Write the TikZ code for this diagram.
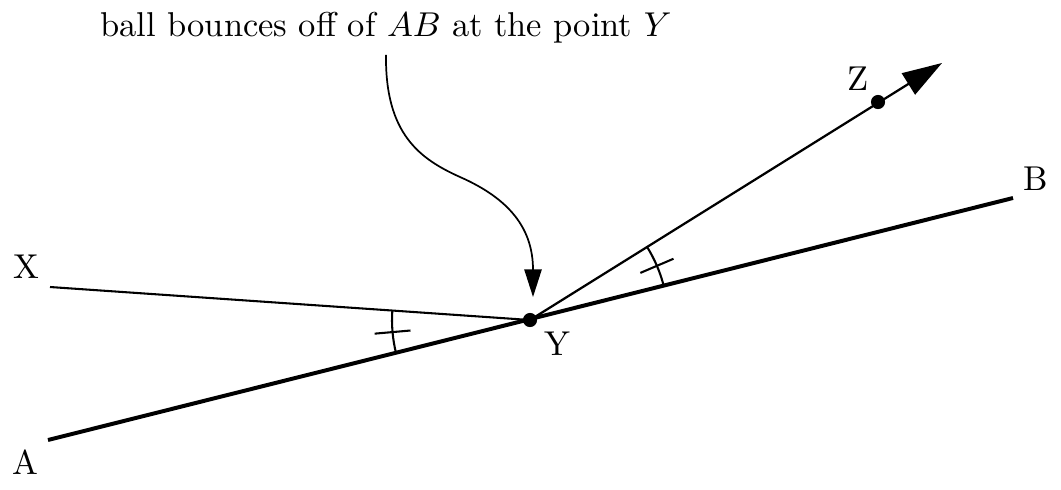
\documentclass[tikz,border=0pt]{standalone}
\usetikzlibrary{arrows.meta,calc}
\begin{document}
\begin{tikzpicture}[x=0.29pt,y=0.29pt,
  lbl/.style={inner sep=0pt},
  dotnode/.style={circle,fill=black,inner sep=0pt,minimum size=4.1pt},
  thinline/.style={line width=0.6pt},
  thickline/.style={line width=1.15pt},
  markline/.style={line width=0.6pt},
  pointer/.style={line width=0.5pt,-{Triangle[length=8pt,width=5pt]}},
  ray/.style={line width=0.65pt,-{Triangle[length=11.5pt,width=7.2pt]}}]
\useasboundingbox (0,0) rectangle (1061,489);
% points
\node[dotnode] (Y) at (530,169) {};
\node[dotnode] (Z) at (878,387) {};
\coordinate (A) at (48,49);
\coordinate (B) at (1013,291);
\coordinate (X) at (50,202);
\coordinate (Ztip) at (942,426);
\coordinate (ctip) at (533,192);
% labels
\node[lbl] (lA) at (25,27) {A};
\node[lbl] (lB) at (1036,310) {B};
\node[lbl] (lX) at (26,222) {X};
\node[lbl] (lY) at (557,145) {Y};
\node[lbl] (lZ) at (858,410) {Z};
\node[anchor=base] (cap) at (386,453) {ball bounces off of $AB$ at the point $Y$};
% lines
\draw[thickline] (A) -- (B);
\draw[thinline] (X) -- (Y.center);
\draw[ray] (Y.center) -- (Ztip);
% angle marks
\draw[markline] ($(Y.center)+(176.07:138)$) arc[start angle=176.07,end angle=193.98,radius=138];
\draw[markline] ($(Y.center)+(185.02:120)$) -- ($(Y.center)+(185.02:156)$);
\draw[markline] ($(Y.center)+(14.18:138)$) arc[start angle=14.18,end angle=32.06,radius=138];
\draw[markline] ($(Y.center)+(23.12:120)$) -- ($(Y.center)+(23.12:156)$);
% pointer
\draw[pointer] (cap.south) .. controls (385,355) and (420,330) .. (460,312)
  .. controls (510,290) and (533,260) .. (ctip);
\end{tikzpicture}
\end{document}
